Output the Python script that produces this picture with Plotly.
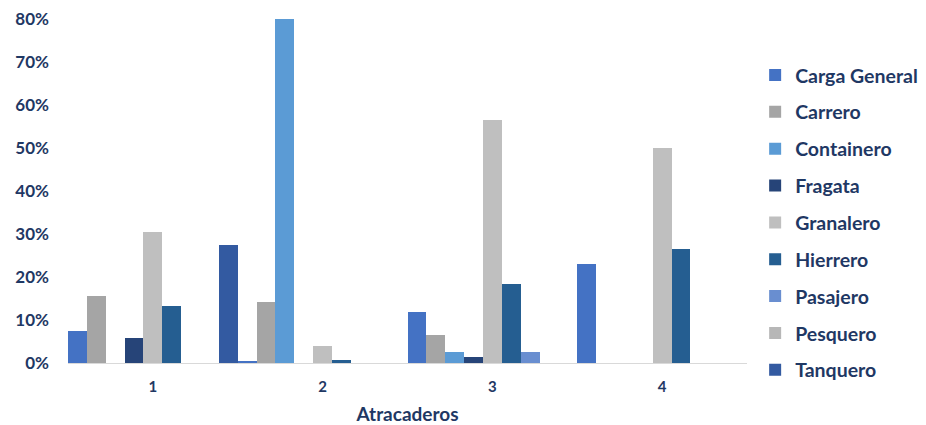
import plotly.graph_objects as go

categories = ["1", "2", "3", "4"]
series_names = ["Carga General", "Carrero", "Containero", "Fragata", "Granalero",
                "Hierrero", "Pasajero", "Pesquero", "Tanquero"]
carga_general = [0.074, 0.005, 0.118, 0.230]
carrero = [0.155, 0.142, 0.065, 0.0]
containero = [0.0, 0.800, 0.025, 0.0]
fragata = [0.058, 0.0, 0.013, 0.0]
granalero = [0.305, 0.039, 0.565, 0.500]
hierrero = [0.132, 0.007, 0.183, 0.266]
pasajero = [0.0, 0.0, 0.025, 0.0]
pesquero = [0.0, 0.0, 0.0, 0.0]
tanquero = [0.274, 0.0, 0.0, 0.0]
values = [carga_general, carrero, containero, fragata, granalero,
          hierrero, pasajero, pesquero, tanquero]
colors = ["#4472C4", "#A5A5A5", "#5B9BD5", "#264478", "#BFBFBF",
          "#255E91", "#698ED0", "#B7B7B7", "#335AA1"]

NAVY = "#1F3864"
FONT = "Lato"

fig = go.Figure()
for name, vals, col in zip(series_names, values, colors):
    fig.add_trace(go.Bar(x=categories, y=vals, name=name, legendgroup=name,
                         marker=dict(color=col, line=dict(width=0))))

fig.update_layout(
    width=918, height=417,
    margin=dict(l=60, r=179, t=11, b=62, autoexpand=False),
    paper_bgcolor="white", plot_bgcolor="white",
    barmode="group", bargap=0, bargroupgap=0,
    font=dict(family=FONT, color=NAVY, size=16, weight="bold"),
    showlegend=True,
    legend=dict(x=1.012, xanchor="left", xref="paper", y=0.893, yanchor="top",
                yref="paper",
                font=dict(size=19.5, family=FONT, color=NAVY, weight="bold"),
                tracegroupgap=8.5, itemwidth=30, bgcolor="rgba(0,0,0,0)"),
    xaxis=dict(type="category", showgrid=False, showline=True, linecolor="#D9D9D9",
               linewidth=1, ticks="", ticklabelstandoff=10,
               tickfont=dict(size=15, family=FONT, color=NAVY, weight="bold"),
               title=dict(text="Atracaderos", standoff=20,
                          font=dict(size=19, family=FONT, color=NAVY, weight="bold"))),
    yaxis=dict(range=[0, 0.8], tickformat=".0%", dtick=0.1, showgrid=False,
               zeroline=False, showline=False, ticks="", ticklabelstandoff=18,
               ticklabeloverflow="allow",
               tickfont=dict(size=17, family=FONT, color=NAVY, weight="bold")),
)

fig.write_html("out.html")
